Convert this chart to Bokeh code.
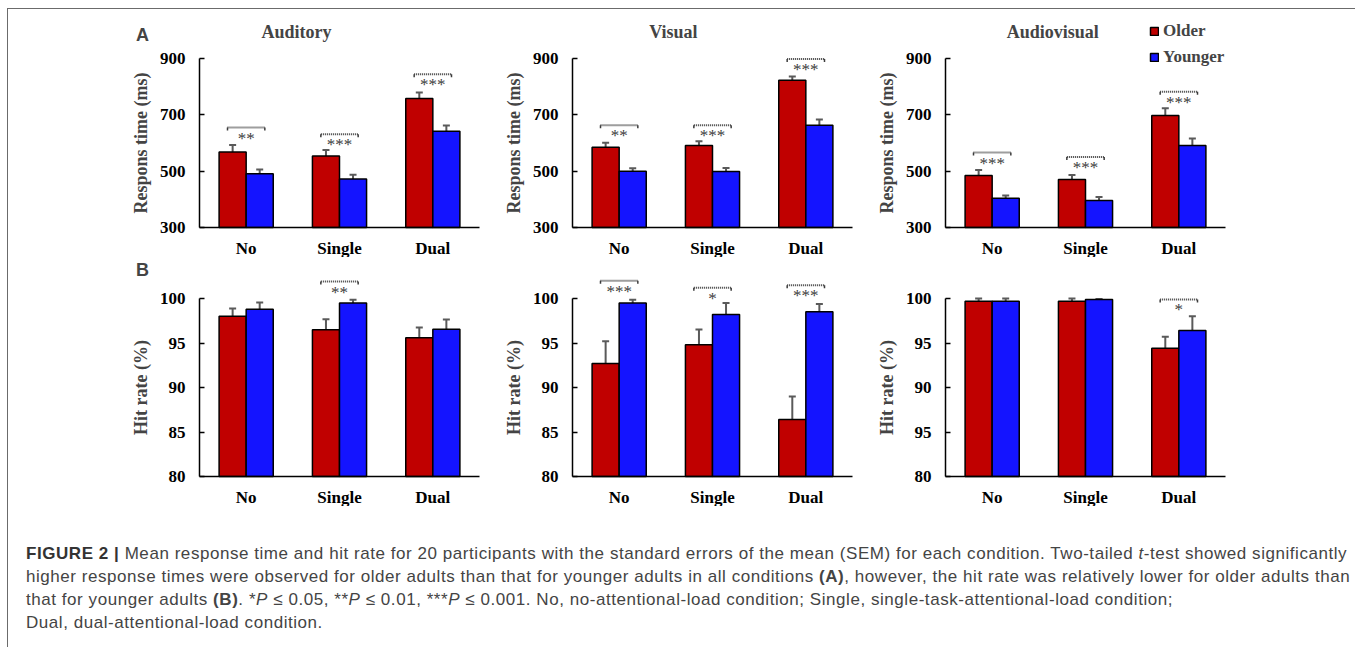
from bokeh.plotting import figure
from bokeh.models import (ColumnDataSource, Whisker, TeeHead, FixedTicker,
                          Label, Legend, LegendItem, Spacer, Div, Range1d)
from bokeh.transform import dodge
from bokeh.layouts import column, row
from bokeh.core.properties import value
from bokeh.embed import file_html
from bokeh.resources import INLINE

# ---------------- data ----------------
categories = ["No", "Single", "Dual"]
groups = ["Older", "Younger"]

# Response time (ms)
rt_aud_old = [568, 554, 758]
rt_aud_old_err = [25, 21, 21]
rt_aud_young = [491, 472, 642]
rt_aud_young_err = [15, 15, 20]
rt_vis_old = [585, 591, 823]
rt_vis_old_err = [16, 15, 13]
rt_vis_young = [500, 499, 663]
rt_vis_young_err = [10, 12, 20]
rt_av_old = [485, 470, 698]
rt_av_old_err = [19, 16, 25]
rt_av_young = [404, 396, 591]
rt_av_young_err = [10, 12, 25]

rt_aud_sig_cat = ["No", "Single", "Dual"]
rt_aud_sig_y = [655, 631, 844]
rt_aud_sig = ["**", "***", "***"]
rt_vis_sig_cat = ["No", "Single", "Dual"]
rt_vis_sig_y = [663, 663, 898]
rt_vis_sig = ["**", "***", "***"]
rt_av_sig_cat = ["No", "Single", "Dual"]
rt_av_sig_y = [566, 550, 782]
rt_av_sig = ["***", "***", "***"]

# Hit rate (%)
hr_aud_old = [98.0, 96.5, 95.6]
hr_aud_old_err = [0.88, 1.18, 1.14]
hr_aud_young = [98.8, 99.5, 96.55]
hr_aud_young_err = [0.75, 0.37, 1.1]
hr_vis_old = [92.7, 94.8, 86.4]
hr_vis_old_err = [2.5, 1.72, 2.6]
hr_vis_young = [99.5, 98.2, 98.5]
hr_vis_young_err = [0.36, 1.3, 0.88]
hr_av_old = [99.7, 99.7, 94.4]
hr_av_old_err = [0.3, 0.3, 1.3]
hr_av_young = [99.7, 99.9, 96.4]
hr_av_young_err = [0.3, 0.05, 1.6]

hr_aud_sig_cat = ["Single"]
hr_aud_sig_y = [101.9]
hr_aud_sig = ["**"]
hr_vis_sig_cat = ["No", "Single", "Dual"]
hr_vis_sig_y = [102.0, 101.2, 101.5]
hr_vis_sig = ["***", "*", "***"]
hr_av_sig_cat = ["Dual"]
hr_av_sig_y = [99.9]
hr_av_sig = ["*"]

panel_titles = ["Auditory", "Visual", "Audiovisual"]
rt_ticks = [300, 500, 700, 900]
hr_ticks = [80, 85, 90, 95, 100]
hr_av_tick_labels = {85: "95"}   # as printed in the original figure

# ---------------- style / geometry ----------------
SERIF = "Liberation Serif"
SANS = "Liberation Sans"
RED = "#C00000"
BLUE = "#1414FF"
ERR = "#5a5a5a"
SIG = "#3c3c3c"

FIG_W = 373
AXIS_X_PX = 80          # y axis position from figure left
UNIT_PX = 280 / 3       # pixels per category
X_START = -AXIS_X_PX / UNIT_PX
X_END = (FIG_W - AXIS_X_PX) / UNIT_PX

RT_PX = 169 / 600       # px per ms
HR_PX = 178 / 20        # px per %
H_A, H_B = 248, 249
BOT_A = 30              # px from figure bottom to the x axis
BOT_B = 30

cat_x = [i + 0.5 for i in range(len(categories))]
cat_pos = dict(zip(categories, cat_x))


def panel(old, old_err, young, young_err, sig_cats, sig_y, sig_txt,
          y_base, y_top_tick, ticks, ylabel, height, bottom_px, px_per,
          title=None, title_x=None, title_page_y=None, letter=None,
          letter_page_y=None, overrides=None, legend_loc=None):
    y_start = y_base - bottom_px / px_per
    y_end = y_base + (height - bottom_px) / px_per
    src = ColumnDataSource(dict(
        x=cat_x, old=old, young=young,
        old_lo=[v - e for v, e in zip(old, old_err)],
        old_hi=[v + e for v, e in zip(old, old_err)],
        young_lo=[v - e for v, e in zip(young, young_err)],
        young_hi=[v + e for v, e in zip(young, young_err)],
    ))
    p = figure(x_range=Range1d(X_START, X_END), y_range=Range1d(y_start, y_end),
               width=FIG_W, height=height, output_backend="svg",
               toolbar_location=None, title=None, min_border=0,
               min_border_left=0, min_border_right=0, min_border_top=0,
               min_border_bottom=0)
    p.outline_line_color = None
    p.xgrid.grid_line_color = None
    p.ygrid.grid_line_color = None
    p.background_fill_color = "white"
    p.border_fill_color = "white"

    bw = 0.29
    r_old = p.vbar(x=dodge("x", -0.145), top="old", bottom=y_base,
                   width=bw, source=src, fill_color=RED, line_color="black",
                   line_width=1.5)
    r_young = p.vbar(x=dodge("x", 0.145), top="young", bottom=y_base,
                     width=bw, source=src, fill_color=BLUE, line_color="black",
                     line_width=1.5)
    for key, off in (("old", -0.145), ("young", 0.145)):
        w = Whisker(base=dodge("x", off), upper=key + "_hi",
                    lower=key + "_lo", source=src, line_color=ERR, line_width=2,
                    upper_head=TeeHead(size=7, line_color=ERR, line_width=2),
                    lower_head=TeeHead(size=7, line_color=ERR, line_width=2))
        p.add_layout(w)

    # significance brackets
    if sig_cats:
        tick = 3.0 / px_per
        ssrc = ColumnDataSource(dict(x=[cat_pos[c] for c in sig_cats], y=sig_y,
                                     y2=[v - tick for v in sig_y], txt=sig_txt))
        xl = dodge("x", -0.2)
        xr = dodge("x", 0.2)
        p.segment(x0=xl, x1=xr, y0="y", y1="y", source=ssrc, line_color=SIG,
                  line_width=2, line_dash="1 1")
        p.segment(x0=xl, x1=xl, y0="y", y1="y2", source=ssrc, line_color=SIG, line_width=1.5)
        p.segment(x0=xr, x1=xr, y0="y", y1="y2", source=ssrc, line_color=SIG, line_width=1.5)
        p.text(x="x", y="y", text="txt", source=ssrc, text_align="center",
               text_baseline="top", y_offset=1, text_font=value(SERIF),
               text_font_size="17px", text_color=SIG)

    # axes (drawn at fixed data locations inside the figure)
    ya = p.yaxis[0]
    ya.fixed_location = 0
    ya.ticker = FixedTicker(ticks=ticks, minor_ticks=[])
    ya.bounds = (y_base, y_top_tick)
    ya.axis_line_width = 1.5
    ya.axis_line_color = "black"
    ya.major_tick_in = 5
    ya.major_tick_out = 0
    ya.major_tick_line_width = 1.5
    ya.major_label_standoff = 14
    ya.major_label_text_font = SERIF
    ya.major_label_text_font_style = "bold"
    ya.major_label_text_font_size = "17px"
    ya.major_label_text_color = "black"
    ya.axis_label = ylabel
    ya.axis_label_text_font = SERIF
    ya.axis_label_text_font_style = "bold"
    ya.axis_label_text_font_size = "18px"
    ya.axis_label_standoff = 6
    if overrides:
        ya.major_label_overrides = overrides

    xa = p.xaxis[0]
    xa.fixed_location = y_base
    xa.ticker = FixedTicker(ticks=cat_x, minor_ticks=[])
    xa.major_label_overrides = {x: c for x, c in zip(cat_x, categories)}
    xa.bounds = (0, len(categories))
    xa.axis_line_width = 1.5
    xa.axis_line_color = "black"
    xa.major_tick_out = 0
    xa.major_tick_in = 0
    xa.minor_tick_out = 0
    xa.minor_tick_in = 0
    xa.major_label_standoff = 11
    xa.major_label_text_font = SERIF
    xa.major_label_text_font_style = "bold"
    xa.major_label_text_font_size = "17px"
    xa.major_label_text_color = "black"

    def page_to_y(py):
        return y_start + (height - py) / px_per

    if title:
        p.add_layout(Label(x=title_x, y=page_to_y(title_page_y), text=title,
                           text_align="center", text_baseline="middle",
                           text_font=SERIF, text_font_style="bold",
                           text_font_size="18px"))
    if letter:
        p.add_layout(Label(x=-0.61, y=page_to_y(letter_page_y), text=letter,
                           text_align="center", text_baseline="middle",
                           text_font=SANS, text_font_style="bold",
                           text_font_size="18px"))
    if legend_loc:
        lg = Legend(items=[LegendItem(label=groups[0], renderers=[r_old]),
                           LegendItem(label=groups[1], renderers=[r_young])],
                    location=legend_loc, orientation="vertical",
                    background_fill_alpha=0, border_line_color=None,
                    padding=0, margin=0, spacing=6, glyph_width=10, glyph_height=10,
                    label_height=20, label_standoff=4, label_text_font=SERIF,
                    label_text_font_style="bold", label_text_font_size="17px")
        p.add_layout(lg)
    return p


# page y positions (within each figure) of titles and panel letters
A_TITLE_Y = 22     # figure-relative pixel y (row A figure starts ~10 px down the page)
A_LETTER_Y = 25
B_LETTER_Y = 12

a1 = panel(rt_aud_old, rt_aud_old_err, rt_aud_young, rt_aud_young_err,
           rt_aud_sig_cat, rt_aud_sig_y, rt_aud_sig, 300, 900, rt_ticks,
           "Respons time (ms)", H_A, BOT_A, RT_PX, title=panel_titles[0],
           title_x=1.04, title_page_y=A_TITLE_Y, letter="A", letter_page_y=A_LETTER_Y)
a2 = panel(rt_vis_old, rt_vis_old_err, rt_vis_young, rt_vis_young_err,
           rt_vis_sig_cat, rt_vis_sig_y, rt_vis_sig, 300, 900, rt_ticks,
           "Respons time (ms)", H_A, BOT_A, RT_PX, title=panel_titles[1],
           title_x=1.08, title_page_y=A_TITLE_Y)
a3 = panel(rt_av_old, rt_av_old_err, rt_av_young, rt_av_young_err,
           rt_av_sig_cat, rt_av_sig_y, rt_av_sig, 300, 900, rt_ticks,
           "Respons time (ms)", H_A, BOT_A, RT_PX, title=panel_titles[2],
           title_x=1.15, title_page_y=A_TITLE_Y, legend_loc=(284, 190))

b1 = panel(hr_aud_old, hr_aud_old_err, hr_aud_young, hr_aud_young_err,
           hr_aud_sig_cat, hr_aud_sig_y, hr_aud_sig, 80, 100, hr_ticks,
           "Hit rate (%)", H_B, BOT_B, HR_PX, letter="B", letter_page_y=B_LETTER_Y)
b2 = panel(hr_vis_old, hr_vis_old_err, hr_vis_young, hr_vis_young_err,
           hr_vis_sig_cat, hr_vis_sig_y, hr_vis_sig, 80, 100, hr_ticks,
           "Hit rate (%)", H_B, BOT_B, HR_PX)
b3 = panel(hr_av_old, hr_av_old_err, hr_av_young, hr_av_young_err,
           hr_av_sig_cat, hr_av_sig_y, hr_av_sig, 80, 100, hr_ticks,
           "Hit rate (%)", H_B, BOT_B, HR_PX, overrides=hr_av_tick_labels)

caption_html = (
    '<div style="font-family: \'Liberation Sans\', Arial, sans-serif; font-size: 17px; '
    'letter-spacing: 0.55px; color: #444; line-height: 23px; padding-top: 31px; '
    'padding-left: 13px; white-space: nowrap;">'
    '<b style="color:#333">FIGURE 2 |</b> Mean response time and hit rate for 20 participants with the '
    'standard errors of the mean (SEM) for each condition. Two-tailed <i>t</i>-test showed significantly<br>'
    'higher response times were observed for older adults than that for younger adults in all conditions '
    '<b>(A)</b>, however, the hit rate was relatively lower for older adults than<br>'
    'that for younger adults <b>(B)</b>. *<i>P</i> &le; 0.05, **<i>P</i> &le; 0.01, ***<i>P</i> &le; 0.001. '
    'No, no-attentional-load condition; Single, single-task-attentional-load condition;<br>'
    'Dual, dual-attentional-load condition.</div>'
)
caption = Div(text=caption_html, width=1340, height=138)

layout = column(
    row(Spacer(width=111, height=H_A), a1, a2, a3),
    row(Spacer(width=111, height=H_B), b1, b2, b3),
    caption,
    margin=(8, 0, 0, 7),
    styles={"border-left": "1.5px solid #6b6b6b", "border-top": "1.5px solid #6b6b6b"},
)

open("out.html", "w").write(file_html(layout, INLINE))
